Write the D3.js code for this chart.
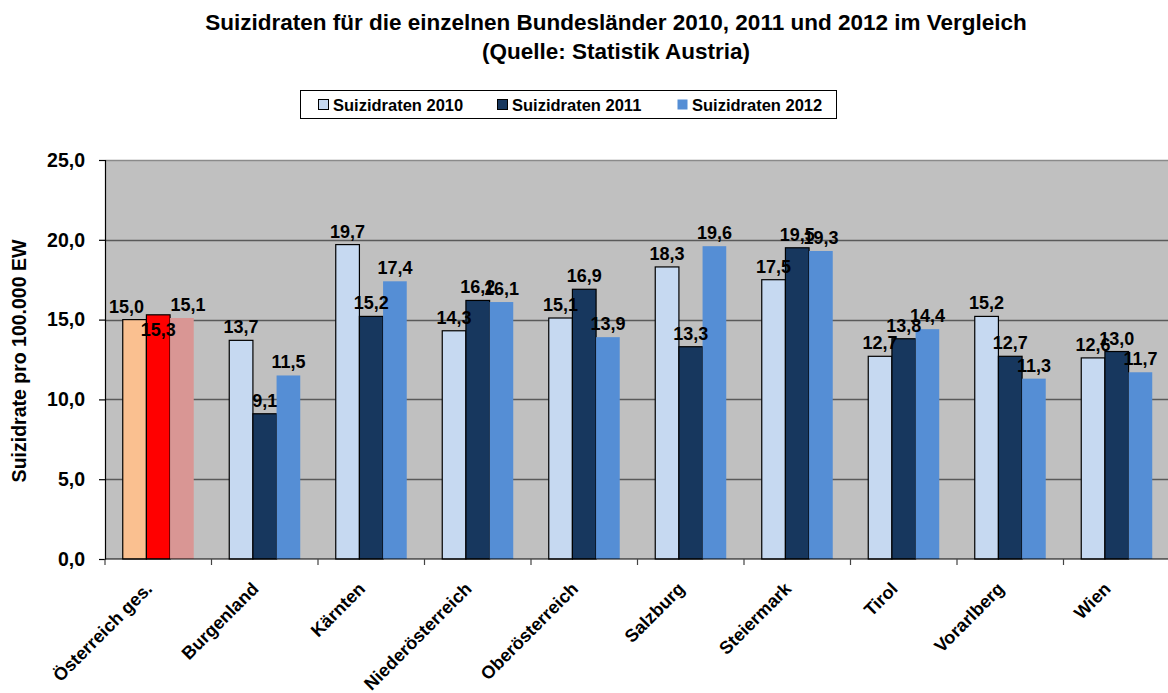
<!DOCTYPE html>
<html>
<head>
<meta charset="utf-8">
<script src="https://cdn.jsdelivr.net/npm/d3@7"></script>
<style>
  html, body { margin: 0; padding: 0; background: #fff; overflow: hidden; }
  svg { display: block; font-family: "Liberation Sans", Arial, sans-serif; font-weight: bold; }
</style>
</head>
<body>
<div id="chart"></div>
<script>
// ── Data ──
const categories = ['Österreich ges.', 'Burgenland', 'Kärnten', 'Niederösterreich', 'Oberösterreich',
  'Salzburg', 'Steiermark', 'Tirol', 'Vorarlberg', 'Wien'];
const seriesNames = ['Suizidraten 2010', 'Suizidraten 2011', 'Suizidraten 2012'];
const rates2010 = [15.0, 13.7, 19.7, 14.3, 15.1, 18.3, 17.5, 12.7, 15.2, 12.6];
const rates2011 = [15.3, 9.1, 15.2, 16.2, 16.9, 13.3, 19.5, 13.8, 12.7, 13.0];
const rates2012 = [15.1, 11.5, 17.4, 16.1, 13.9, 19.6, 19.3, 14.4, 11.3, 11.7];
const yTicks = [0, 5, 10, 15, 20, 25];

// ── Colors ──
const SERIES_COLORS = ['#C6D9F1', '#17375E', '#558ED5'];
const AUSTRIA_COLORS = ['#FAC090', '#FF0000', '#D99694'];
const SERIES_STROKE = ['#000', '#000', 'none'];

// label nudges for the Österreich group (placed by hand in the original)
const austriaLabelShift = [[-8, 0], [0, 28], [6, 0]];

const W = 1168, H = 693;
const margin = { left: 105, top: 160, right: -2, bottom: 134 };
const fmt = v => v.toFixed(1).replace('.', ',');

const svg = d3.select('#chart').append('svg')
  .attr('width', W)
  .attr('height', H);

// ── Title ──
const title = svg.append('g').attr('font-size', '22.5px').attr('text-anchor', 'middle');
title.append('text').attr('x', 616).attr('y', 30)
  .text('Suizidraten für die einzelnen Bundesländer 2010, 2011 und 2012 im Vergleich');
title.append('text').attr('x', 616).attr('y', 59)
  .text('(Quelle: Statistik Austria)');

// ── Legend ──
const legend = svg.append('g');
legend.append('rect')
  .attr('x', 300.5).attr('y', 90.5)
  .attr('width', 536).attr('height', 28)
  .attr('fill', '#fff').attr('stroke', '#000');
const legendX = [318, 497, 677];
seriesNames.forEach((name, i) => {
  legend.append('rect')
    .attr('x', legendX[i] + 0.5).attr('y', 99.5)
    .attr('width', 10).attr('height', 10)
    .attr('fill', SERIES_COLORS[i])
    .attr('stroke', i === 2 ? 'none' : '#000');
  legend.append('text')
    .attr('x', legendX[i] + 15).attr('y', 110.5)
    .attr('font-size', '16.5px')
    .text(name);
});

// ── Scales ──
const x0 = d3.scaleBand()
  .domain(categories)
  .range([margin.left, W - margin.right]);

const x1 = d3.scaleBand()
  .domain(d3.range(3))
  .range([0, x0.bandwidth()])
  .paddingOuter(0.75);

const y = d3.scaleLinear()
  .domain([0, 25])
  .range([H - margin.bottom, margin.top]);

// ── Plot background ──
svg.append('rect')
  .attr('x', margin.left).attr('y', margin.top)
  .attr('width', W - margin.right - margin.left)
  .attr('height', y(0) - margin.top)
  .attr('fill', '#C0C0C0');

// gridlines
svg.append('g')
  .selectAll('line')
  .data(yTicks.filter(t => t > 0))
  .join('line')
  .attr('x1', margin.left).attr('x2', W)
  .attr('y1', d => Math.round(y(d)) + 0.5)
  .attr('y2', d => Math.round(y(d)) + 0.5)
  .attr('stroke', d => d === 25 ? '#8a8a8a' : '#5a5a5a')
  .attr('stroke-width', 1.3);

// ── Bars ──
const seriesValues = [rates2010, rates2011, rates2012];
const bars = categories.flatMap((c, ci) => seriesValues.map((vals, si) => ({
  cat: c, ci, si, value: vals[ci]
})));

svg.append('g')
  .selectAll('rect')
  .data(bars)
  .join('rect')
  .attr('x', d => x0(d.cat) + x1(d.si))
  .attr('y', d => y(d.value))
  .attr('width', x1.bandwidth())
  .attr('height', d => y(0) - y(d.value))
  .attr('fill', d => d.ci === 0 ? AUSTRIA_COLORS[d.si] : SERIES_COLORS[d.si])
  .attr('stroke', d => SERIES_STROKE[d.si])
  .attr('stroke-width', 1.2);

// ── Axes ──
const yAxis = d3.axisLeft(y).tickValues(yTicks).tickSize(6).tickPadding(14).tickFormat(fmt);
const yAxisG = svg.append('g')
  .attr('transform', `translate(${margin.left},0)`)
  .call(yAxis);
yAxisG.select('.domain').attr('stroke', '#000').attr('stroke-width', 1.2);
yAxisG.selectAll('.tick line').attr('stroke', '#000').attr('stroke-width', 1.2);
yAxisG.selectAll('.tick text')
  .attr('font-family', 'Liberation Sans, Arial, sans-serif')
  .attr('font-size', '19.5px')
  .attr('font-weight', 'bold')
  .attr('fill', '#000');

// x axis with ticks at category borders
const xAxisG = svg.append('g');
xAxisG.append('line')
  .attr('x1', margin.left).attr('x2', W)
  .attr('y1', y(0)).attr('y2', y(0))
  .attr('stroke', '#000').attr('stroke-width', 1.2);
xAxisG.selectAll('.xt')
  .data(categories)
  .join('line')
  .attr('class', 'xt')
  .attr('x1', d => x0(d)).attr('x2', d => x0(d))
  .attr('y1', y(0)).attr('y2', y(0) + 6)
  .attr('stroke', '#444').attr('stroke-width', 1.2);

// category labels rotated
svg.append('g')
  .attr('font-size', '18px')
  .selectAll('text')
  .data(categories)
  .join('text')
  .attr('text-anchor', 'end')
  .attr('transform', d => `translate(${x0(d) + x0.bandwidth() / 2 - 5},${y(0) + 31}) rotate(-45)`)
  .text(d => d);

// ── Value labels ──
svg.append('g')
  .attr('font-size', '18px')
  .attr('text-anchor', 'middle')
  .selectAll('text')
  .data(bars)
  .join('text')
  .attr('x', d => x0(d.cat) + x1(d.si) + x1.bandwidth() / 2 + (d.ci === 0 ? austriaLabelShift[d.si][0] : 0))
  .attr('y', d => y(d.value) - 7 + (d.ci === 0 ? austriaLabelShift[d.si][1] : 0))
  .text(d => fmt(d.value));

// ── Y axis title ──
svg.append('text')
  .attr('font-size', '19.5px')
  .attr('text-anchor', 'middle')
  .attr('transform', 'translate(26,361) rotate(-90)')
  .text('Suizidrate pro 100.000 EW');
</script>
</body>
</html>
